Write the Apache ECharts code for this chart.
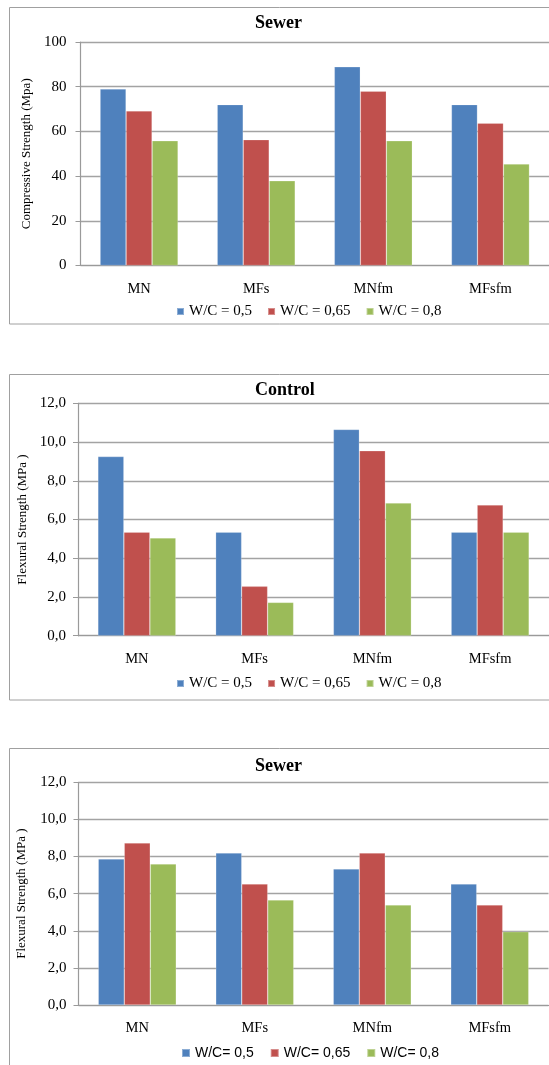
<!DOCTYPE html>
<html>
<head>
<meta charset="utf-8">
<script src="https://cdn.jsdelivr.net/npm/echarts@6/dist/echarts.min.js"></script>
<style>
html,body{margin:0;padding:0;background:#fff;}
#c{width:549px;height:1065px;}
</style>
</head>
<body>
<div id="c"></div>
<script>
// ---- data ----
const categories = ['MN', 'MFs', 'MNfm', 'MFsfm'];
const seriesNames = ['W/C = 0,5', 'W/C = 0,65', 'W/C = 0,8'];
const seriesNames3 = ['W/C= 0,5', 'W/C= 0,65', 'W/C= 0,8'];

const sewerComp_05 = [79.0, 72.0, 88.9, 72.0];
const sewerComp_065 = [69.2, 56.3, 78.0, 63.7];
const sewerComp_08 = [55.8, 37.9, 55.8, 45.4];

const controlFlex_05 = [9.25, 5.35, 10.65, 5.35];
const controlFlex_065 = [5.35, 2.55, 9.55, 6.75];
const controlFlex_08 = [5.05, 1.72, 6.85, 5.35];

const sewerFlex_05 = [7.87, 8.19, 7.33, 6.52];
const sewerFlex_065 = [8.73, 6.52, 8.19, 5.39];
const sewerFlex_08 = [7.60, 5.66, 5.39, 3.95];

const titles = ['Sewer', 'Control', 'Sewer'];
const yNames = ['Compressive Strength (Mpa)', 'Flexural Strength (MPa )', 'Flexural Strength (MPa )'];
const yMax = [100, 12, 12];
const yInterval = [20, 2, 2];

// ---- styles ----
const colors = ['#4F81BD', '#C0504D', '#9BBB59'];
const serif = '"Liberation Serif", "Times New Roman", serif';
const sans = '"Liberation Sans", Arial, sans-serif';
const gridColor = '#a3a3a3';

const grids = [
  {left: 80.5, top: 42, width: 469, height: 223.5},
  {left: 78, top: 403.3, width: 471, height: 232.4},
  {left: 78.5, top: 782.3, width: 470, height: 222.7}
];

const chart = echarts.init(document.getElementById('c'), null, {renderer: 'canvas'});

const xAxes = grids.map((g, i) => ({
  type: 'category', gridIndex: i, data: categories,
  axisLine: {lineStyle: {color: '#9a9a9a', width: 1.2}},
  axisTick: {show: false},
  axisLabel: {color: '#000', fontFamily: serif, fontSize: 14.5, margin: 16}
}));

const yAxes = grids.map((g, i) => ({
  type: 'value', gridIndex: i, min: 0, max: yMax[i], interval: yInterval[i],
  name: yNames[i], nameLocation: 'middle', nameRotate: 90,
  nameGap: [46, 46, 50][i],
  nameTextStyle: {color: '#000', fontFamily: serif, fontSize: 13},
  axisLine: {show: true, lineStyle: {color: '#9a9a9a', width: 1.2}},
  axisTick: {show: true, length: 5, lineStyle: {color: '#9a9a9a'}},
  axisLabel: {
    color: '#000', fontFamily: serif, fontSize: 15, margin: [14, 12, 12][i],
    formatter: i === 0 ? (v => String(v)) : (v => v.toFixed(1).replace('.', ','))
  },
  splitLine: {show: true, lineStyle: {color: gridColor, width: 1.3}}
}));

function bars(name, data, idx, color) {
  return {
    type: 'bar', name: name, data: data, xAxisIndex: idx, yAxisIndex: idx,
    barWidth: 26, barGap: '0%',
    itemStyle: {color: color, borderColor: 'rgba(255,255,255,0.35)', borderWidth: 0.6},
    emphasis: {disabled: true}, animation: false
  };
}

const series = [
  bars(seriesNames[0], sewerComp_05, 0, colors[0]),
  bars(seriesNames[1], sewerComp_065, 0, colors[1]),
  bars(seriesNames[2], sewerComp_08, 0, colors[2]),
  bars(seriesNames[0], controlFlex_05, 1, colors[0]),
  bars(seriesNames[1], controlFlex_065, 1, colors[1]),
  bars(seriesNames[2], controlFlex_08, 1, colors[2]),
  bars(seriesNames3[0], sewerFlex_05, 2, colors[0]),
  bars(seriesNames3[1], sewerFlex_065, 2, colors[1]),
  bars(seriesNames3[2], sewerFlex_08, 2, colors[2])
];

const titleTops = [14, 381, 757];

const option = {
  animation: false,
  color: colors,
  title: titles.map((t, i) => ({
    text: t, left: 255, top: titleTops[i], padding: 0,
    textStyle: {fontFamily: serif, fontWeight: 'bold', fontSize: 18, color: '#000'}
  })),
  legend: [
    {data: seriesNames, left: 176, top: 304, itemWidth: 7, itemHeight: 7, itemGap: 15, padding: 0, icon: 'rect',
     textStyle: {fontFamily: serif, fontSize: 15, color: '#000'}, selectedMode: false},
    {data: seriesNames, left: 176, top: 676, itemWidth: 7, itemHeight: 7, itemGap: 15, padding: 0, icon: 'rect',
     textStyle: {fontFamily: serif, fontSize: 15, color: '#000'}, selectedMode: false},
    {data: seriesNames3, left: 181, top: 1046, itemWidth: 8, itemHeight: 8, itemGap: 16, padding: 0, icon: 'rect',
     textStyle: {fontFamily: sans, fontSize: 14, color: '#000'}, selectedMode: false}
  ],
  grid: grids.map(g => Object.assign({containLabel: false}, g)),
  xAxis: xAxes,
  yAxis: yAxes,
  series: series,
  graphic: [
    {type: 'rect', shape: {x: 9.5, y: 7.5, width: 600, height: 316.5}, style: {fill: 'none', stroke: '#a0a0a0', lineWidth: 1}, silent: true, z: -1},
    {type: 'rect', shape: {x: 9.5, y: 374.5, width: 600, height: 325.5}, style: {fill: 'none', stroke: '#a0a0a0', lineWidth: 1}, silent: true, z: -1},
    {type: 'rect', shape: {x: 9.5, y: 748.5, width: 600, height: 400}, style: {fill: 'none', stroke: '#a0a0a0', lineWidth: 1}, silent: true, z: -1}
  ]
};

chart.setOption(option);
</script>
</body>
</html>
